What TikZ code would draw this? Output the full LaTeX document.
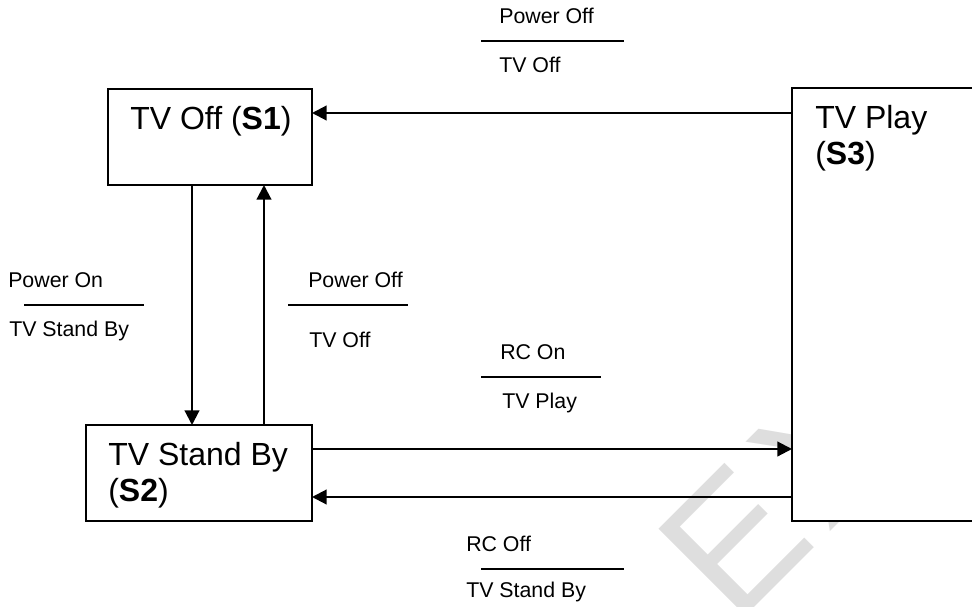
\documentclass[tikz,border=0pt]{standalone}
\usepackage{fontspec}
\setmainfont{Liberation Sans}
\usetikzlibrary{arrows.meta, calc}
\tikzset{
  statebox/.style={
    draw, line width=1.3pt, anchor=north west,
    inner sep=0pt, outer sep=0pt,
  },
  statetxt/.style={anchor=north west, inner sep=0pt, align=left,
                   font=\fontsize{24}{27}\selectfont},
  trlbl/.style   ={anchor=base west, inner sep=0pt,
                   font=\fontsize{16}{19}\selectfont},
  trrule/.style  ={line width=1.5pt},
  arr/.style     ={-{Triangle[length=11pt,width=11pt]}, line width=1.6pt},
  wmark/.style   ={text=black!13, inner sep=0pt,
                   font=\fontsize{134}{140}\selectfont},
}
\begin{document}
\begin{tikzpicture}[x=0.75pt, y=-0.75pt]
\useasboundingbox (0,0) rectangle (972,607);

%% watermark
\node[wmark, rotate=45, anchor=base west] (wm) at (735,627) {E\kern9pt X};

%% ════════════════════════════════════════════════════════════
%%  STATES
%% ════════════════════════════════════════════════════════════
\node[statebox, minimum width=153pt, minimum height=72pt] (s1) at (108,89) {};
\node[statebox, minimum width=169.5pt, minimum height=72pt] (s2) at (86,425) {};
\node[statebox, fill=white, minimum width=220pt, minimum height=325pt]
  (s3) at (792,88) {};

\node[statetxt] (s1txt) at ($(s1.north west)+(22,17)$)
  {TV Off (\textbf{S1})};
\node[statetxt] (s2txt) at ($(s2.north west)+(22,17)$)
  {TV Stand By\\(\textbf{S2})};
\node[statetxt] (s3txt) at ($(s3.north west)+(23,17)$)
  {TV Play\\(\textbf{S3})};

%% ════════════════════════════════════════════════════════════
%%  TRANSITIONS
%% ════════════════════════════════════════════════════════════
\coordinate (t31) at ($(s1.north east)+(0,24)$);
\coordinate (t12) at ($(s1.south west)+(84,0)$);
\coordinate (t21) at ($(s1.south west)+(156,0)$);
\coordinate (t23) at ($(s2.north east)+(0,24)$);
\coordinate (t32) at ($(s2.north east)+(0,72)$);

\draw[arr] (s3.west |- t31) -- (t31);
\draw[arr] (t12) -- (t12 |- s2.north);
\draw[arr] (t21 |- s2.north) -- (t21);
\draw[arr] (t23) -- (t23 -| s3.west);
\draw[arr] (t32 -| s3.west) -- (t32);

%% ════════════════════════════════════════════════════════════
%%  EVENT / ACTION LABELS
%% ════════════════════════════════════════════════════════════
% S3 -> S1
\node[trlbl] (l31ev) at (499,23) {Power Off};
\draw[trrule] ($(l31ev.base west)+(-18,18)$) -- ++(143,0);
\node[trlbl] (l31ac) at (499,72) {TV Off};

% S1 -> S2
\node[trlbl] (l12ev) at (8,287) {Power On};
\draw[trrule] ($(l12ev.base west)+(16,18)$) -- ++(120,0);
\node[trlbl] (l12ac) at (9,336) {TV Stand By};

% S2 -> S1
\node[trlbl] (l21ev) at (308,287) {Power Off};
\draw[trrule] ($(l21ev.base west)+(-20,18)$) -- ++(120,0);
\node[trlbl] (l21ac) at (309,347) {TV Off};

% S2 -> S3
\node[trlbl] (l23ev) at (500,359) {RC On};
\draw[trrule] ($(l23ev.base west)+(-19,18)$) -- ++(120,0);
\node[trlbl] (l23ac) at (502,408) {TV Play};

% S3 -> S2
\node[trlbl] (l32ev) at (466,551) {RC Off};
\draw[trrule] ($(l32ev.base west)+(15,18)$) -- ++(143,0);
\node[trlbl] (l32ac) at (466,597) {TV Stand By};

\end{tikzpicture}
\end{document}
